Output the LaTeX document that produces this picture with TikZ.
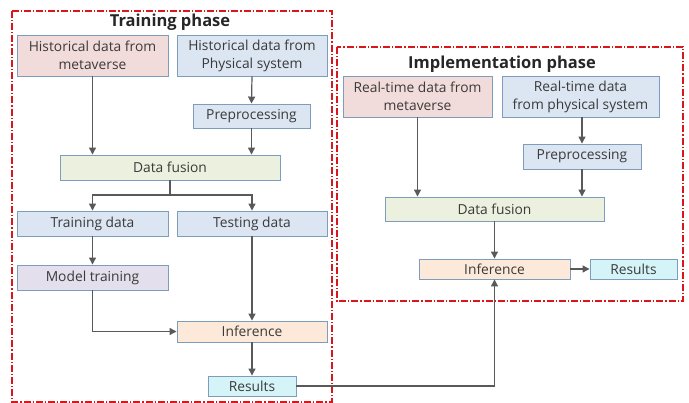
\documentclass[tikz,border=0pt]{standalone}
\usepackage{xcolor}
\usepackage{fontspec}
\setmainfont{Open Sans}
\usepackage{tikz}
\usetikzlibrary{arrows.meta, positioning, calc}
\definecolor{framered}{HTML}{D9161C}
\definecolor{edgeblue}{HTML}{7E9CBC}
\definecolor{arrowgray}{HTML}{595959}
\definecolor{textgray}{HTML}{3A3A3A}
\definecolor{metapink}{HTML}{F2DCDB}
\definecolor{physblue}{HTML}{DCE6F2}
\definecolor{fusiongreen}{HTML}{EBF1DE}
\definecolor{trainlilac}{HTML}{E4DFEC}
\definecolor{inferpeach}{HTML}{FDE9D9}
\definecolor{resultcyan}{HTML}{D5F4F8}

\tikzset{
  box/.style={draw=edgeblue, line width=0.9pt, inner sep=1pt, align=center,
    text=textgray, font=\fontsize{13.8}{18}\selectfont},
  phaseframe/.style={draw=framered, line width=1.3pt,
    dash pattern=on 7pt off 2pt on 1.2pt off 2pt},
  phasetitle/.style={font=\fontsize{16.5}{19}\selectfont\bfseries, text=black!85},
  flow/.style={draw=arrowgray, line width=1.2pt, -{Triangle[length=7pt,width=7pt]}},
  plain/.style={draw=arrowgray, line width=1.2pt}
}

\begin{document}
\begin{tikzpicture}[x=1pt, y=-1pt]
  \useasboundingbox (0,0) rectangle (689,403);

  % Phase frames
  \draw[phaseframe] (12,11) rectangle (332,402);
  \draw[phaseframe] (337,47) rectangle (683,301);
  \node[phasetitle] (traintitle) at (170,22) {Training phase};
  \node[phasetitle] (impltitle) at (502,64) {Implementation phase};

  % Training phase
  \node[box, fill=metapink, minimum width=151pt, minimum height=41pt] (histmeta) at (92.5,55.5) {Historical data from\\metaverse};
  \node[box, fill=physblue, minimum width=150pt, minimum height=41pt] (histphys) at (252,55.5) {Historical data from\\Physical system};
  \node[box, fill=physblue, minimum width=117pt, minimum height=24pt] (prep) at (251.5,116) {Preprocessing};
  \node[box, fill=fusiongreen, minimum width=220pt, minimum height=25pt] (fusion) at (170,167.5) {Data fusion};
  \node[box, fill=physblue, minimum width=151pt, minimum height=25pt] (traindata) at (92.5,223.5) {Training data};
  \node[box, fill=physblue, minimum width=150pt, minimum height=25pt] (testdata) at (252,223.5) {Testing data};
  \node[box, fill=trainlilac, minimum width=151pt, minimum height=25pt] (modeltrain) at (92.5,277.5) {Model training};
  \node[box, fill=inferpeach, minimum width=150pt, minimum height=21pt] (infer) at (252,331.5) {Inference};
  \node[box, fill=resultcyan, minimum width=88pt, minimum height=20pt] (results) at (252,386) {Results};
  \coordinate (split) at (170,195);

  \draw[flow] (histmeta.south) -- (histmeta.south |- fusion.north);
  \draw[flow] (histphys.south) -- (prep.north);
  \draw[flow] (prep.south) -- (prep.south |- fusion.north);
  \draw[plain] (fusion.south) -- (split);
  \draw[flow] (split) -| (traindata.north);
  \draw[flow] (split) -| (testdata.north);
  \draw[flow] (traindata.south) -- (modeltrain.north);
  \draw[flow] (modeltrain.south) |- (infer.west);
  \draw[flow] (testdata.south) -- (infer.north);
  \draw[flow] (infer.south) -- (results.north);

  % Implementation phase
  \node[box, fill=metapink, minimum width=149pt, minimum height=41pt] (rtmeta) at (417.5,96.5) {Real-time data from\\metaverse};
  \node[box, fill=physblue, minimum width=157pt, minimum height=41pt] (rtphys) at (580.5,96.5) {Real-time data\\from physical system};
  \node[box, fill=physblue, minimum width=118pt, minimum height=25pt] (prep2) at (582,156.5) {Preprocessing};
  \node[box, fill=fusiongreen, minimum width=219pt, minimum height=24pt] (fusion2) at (494.5,209) {Data fusion};
  \node[box, fill=inferpeach, minimum width=151pt, minimum height=20pt] (infer2) at (494.5,269) {Inference};
  \node[box, fill=resultcyan, minimum width=87pt, minimum height=20pt] (results2) at (633.5,269) {Results};

  \draw[flow] (rtmeta.south) -- (rtmeta.south |- fusion2.north);
  \draw[flow] (prep2.north |- rtphys.south) -- (prep2.north);
  \draw[flow] (prep2.south) -- (prep2.south |- fusion2.north);
  \draw[flow] (fusion2.south) -- (infer2.north);
  \draw[flow] (infer2.east) -- (results2.west);

  % trained model carried over
  \draw[flow] (results.east) -| (infer2.south);
\end{tikzpicture}
\end{document}
